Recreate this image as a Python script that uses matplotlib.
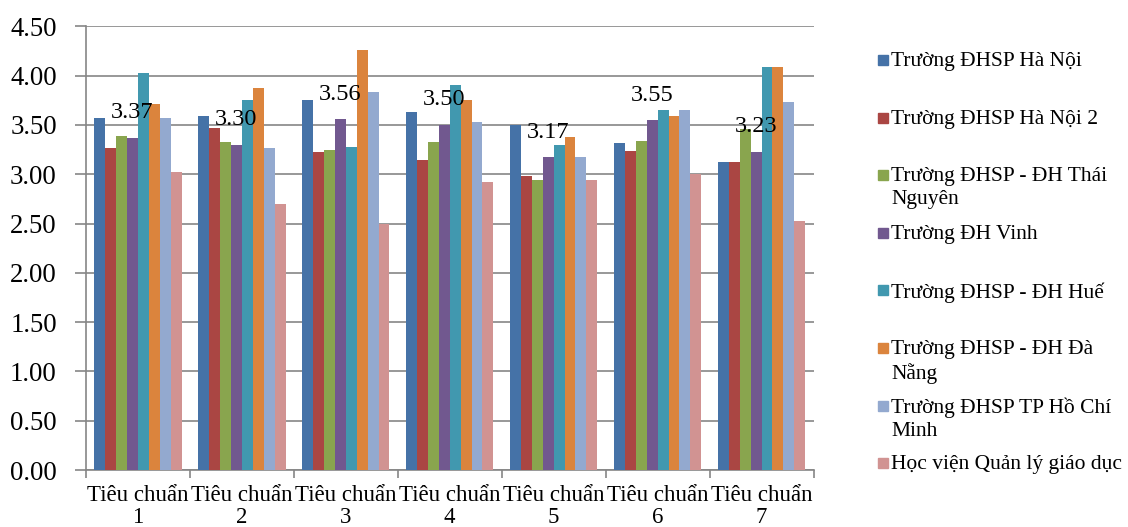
import matplotlib
matplotlib.use('Agg')
import matplotlib.pyplot as plt
from matplotlib.patches import Rectangle
import numpy as np

plt.rcParams['font.family'] = ['Liberation Serif', 'DejaVu Serif']

criteria = ['Tiêu chuẩn\n1', 'Tiêu chuẩn\n2', 'Tiêu chuẩn\n3', 'Tiêu chuẩn\n4',
            'Tiêu chuẩn\n5', 'Tiêu chuẩn\n6', 'Tiêu chuẩn\n7']

schools = ['Trường ĐHSP Hà Nội',
           'Trường ĐHSP Hà Nội 2',
           'Trường ĐHSP - ĐH Thái\nNguyên',
           'Trường ĐH Vinh',
           'Trường ĐHSP - ĐH Huế',
           'Trường ĐHSP - ĐH Đà\nNẵng',
           'Trường ĐHSP TP Hồ Chí\nMinh',
           'Học viện Quản lý giáo dục']

hanoi    = [3.57, 3.59, 3.75, 3.63, 3.50, 3.32, 3.12]
hanoi2   = [3.27, 3.47, 3.23, 3.14, 2.98, 3.24, 3.12]
thainguyen = [3.39, 3.33, 3.25, 3.33, 2.94, 3.34, 3.46]
vinh     = [3.37, 3.30, 3.56, 3.50, 3.17, 3.55, 3.23]
hue      = [4.03, 3.75, 3.28, 3.91, 3.30, 3.65, 4.09]
danang   = [3.71, 3.87, 4.26, 3.75, 3.38, 3.59, 4.09]
hcm      = [3.57, 3.27, 3.83, 3.53, 3.18, 3.65, 3.73]
hvql     = [3.02, 2.70, 2.50, 2.92, 2.94, 3.00, 2.53]

series = [hanoi, hanoi2, thainguyen, vinh, hue, danang, hcm, hvql]
colors = ['#4572A7', '#AA4643', '#89A54E', '#71588F',
          '#4198AF', '#DB843D', '#93A9CF', '#D19392']

fig = plt.figure(figsize=(11.28, 5.27), dpi=100)
ax = fig.add_axes([0.0762, 0.108, 0.645, 0.842])

x = np.arange(len(criteria))
w = 0.105
for i, vals in enumerate(series):
    pos = x + (i - 3.5) * w
    ax.bar(pos, vals, width=w, color=colors[i], zorder=3)
    if i == 3:
        # the data labels sit over the ĐH Vinh bars
        for px, v in zip(pos, vals):
            ax.annotate('%.2f' % v, (px, v), xytext=(0, 18),
                        textcoords='offset points', ha='center', va='center',
                        fontsize=17.5, zorder=4)

ax.set_xlim(-0.5, len(criteria) - 0.5)
ax.set_ylim(0, 4.5)
ax.set_yticks(np.arange(0, 4.51, 0.5))
ax.set_yticklabels(['%.2f' % t for t in np.arange(0, 4.51, 0.5)])
ax.yaxis.grid(True, color='#868686', linewidth=1.2, zorder=0)

# boundary ticks as major, labels on minor
ax.set_xticks(np.arange(-0.5, len(criteria), 1.0))
ax.set_xticklabels([])
ax.set_xticks(x, minor=True)
ax.set_xticklabels(criteria, minor=True, linespacing=1.05)
ax.tick_params(axis='x', which='major', length=6, width=1.2, color='#868686')
ax.tick_params(axis='x', which='minor', length=0, pad=11, labelsize=16.5)
ax.tick_params(axis='y', length=8, width=1.2, color='#868686', pad=13, labelsize=19.3)

for s in ['top', 'right']:
    ax.spines[s].set_visible(False)
for s in ['left', 'bottom']:
    ax.spines[s].set_color('#868686')
    ax.spines[s].set_linewidth(1.2)

# legend drawn by hand so each marker sits on the first text line
H = 527.0
W = 1128.0
y0 = 60.0
step = 57.6
for i, name in enumerate(schools):
    yc = y0 + i * step
    fig.add_artist(Rectangle((878 / W, 1 - (yc + 5) / H), 10 / W, 10 / H,
                             transform=fig.transFigure, color=colors[i]))
    fig.text(891 / W, 1 - (yc - 8) / H, name, fontsize=15.5, va='top',
             ha='left', linespacing=1.25)

fig.savefig('out.png', dpi=100)
